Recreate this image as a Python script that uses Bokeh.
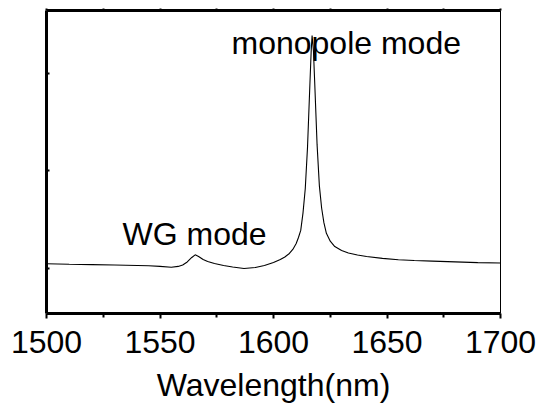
from bokeh.plotting import figure
from bokeh.models import Range1d, FixedTicker, LinearAxis
from bokeh.core.properties import value
from bokeh.embed import file_html
from bokeh.resources import INLINE

# Wavelength (nm) and intensity (arbitrary units)
wavelength = [1500, 1510, 1520, 1530, 1540, 1545, 1550, 1555, 1558, 1560, 1562, 1564,
              1565.5, 1567, 1569, 1571, 1574, 1578, 1582, 1587, 1592, 1596, 1600,
              1603, 1605, 1607, 1608.5, 1610, 1611, 1612, 1613, 1614, 1615, 1616,
              1616.6, 1617.0, 1617.6, 1618.2, 1619.2, 1620.2, 1621.2, 1622.2, 1623.3,
              1625, 1627, 1630, 1633, 1637, 1641, 1648, 1655, 1662, 1670, 1680, 1690, 1700]
intensity = [0.048, 0.043, 0.039, 0.036, 0.031, 0.028, 0.021, 0.013, 0.021, 0.036, 0.067, 0.113,
             0.140, 0.123, 0.092, 0.072, 0.051, 0.031, 0.015, 0.000, 0.010, 0.031, 0.062,
             0.092, 0.118, 0.154, 0.195, 0.256, 0.318, 0.390, 0.570, 0.820, 1.250, 1.870,
             2.230, 2.390, 2.230, 1.880, 1.270, 0.850, 0.620, 0.470, 0.360,
             0.280, 0.225, 0.185, 0.158, 0.138, 0.122, 0.103, 0.089, 0.081, 0.075, 0.068, 0.060, 0.056]

x_major = [1500, 1550, 1600, 1650, 1700]
x_minor = [1525, 1575, 1625, 1675]
y_major = [0, 1, 2]

labels = ["monopole mode", "WG mode"]
label_x = [1581.5, 1533.5]
label_y = [2.31, 0.355]

FONT = "Liberation Sans"

p = figure(width=540, height=410, output_backend="svg", toolbar_location=None,
           x_range=Range1d(1500, 1700), y_range=Range1d(-0.462, 2.646),
           x_axis_location=None, y_axis_location=None,
           min_border_left=46, min_border_right=40, min_border_top=10, min_border_bottom=97)
p.grid.visible = False
p.outline_line_color = None
p.background_fill_color = "white"
p.border_fill_color = "white"

# bottom axis
xb = LinearAxis(ticker=FixedTicker(ticks=x_major, minor_ticks=x_minor))
xb.axis_line_width = 3
xb.axis_line_color = "black"
xb.major_tick_in = 0
xb.major_tick_out = 5
xb.minor_tick_in = 0
xb.minor_tick_out = 4
xb.major_tick_line_width = 2
xb.minor_tick_line_width = 2
xb.major_label_text_font = FONT
xb.major_label_text_font_size = "32px"
xb.major_label_text_color = "black"
xb.major_label_standoff = 12
xb.axis_label = "Wavelength(nm)"
xb.axis_label_text_font = FONT
xb.axis_label_text_font_size = "32px"
xb.axis_label_text_font_style = "normal"
xb.axis_label_text_color = "black"
xb.axis_label_standoff = 11
p.add_layout(xb, "below")

# left axis (no labels)
yl = LinearAxis(ticker=FixedTicker(ticks=y_major, minor_ticks=[]))
yl.axis_line_width = 3
yl.axis_line_color = "black"
yl.major_tick_in = 3
yl.major_tick_out = 0
yl.major_tick_line_width = 2
yl.minor_tick_line_color = None
yl.major_label_text_font_size = "0px"
yl.major_label_text_color = None
yl.major_label_standoff = 0
p.add_layout(yl, "left")

# top border with small ticks
xt = LinearAxis(ticker=FixedTicker(ticks=x_major, minor_ticks=x_minor))
xt.axis_line_width = 3
xt.axis_line_color = "black"
xt.major_tick_in = 0
xt.major_tick_out = 2
xt.minor_tick_in = 0
xt.minor_tick_out = 2
xt.major_tick_line_width = 2
xt.minor_tick_line_width = 2
xt.major_label_text_font_size = "0px"
xt.major_label_text_color = None
xt.major_label_standoff = 0
p.add_layout(xt, "above")

# right border, thin
yr = LinearAxis(ticker=FixedTicker(ticks=[], minor_ticks=[]))
yr.axis_line_width = 1
yr.axis_line_color = "black"
yr.major_tick_line_color = None
yr.minor_tick_line_color = None
yr.major_label_text_font_size = "0px"
yr.major_label_text_color = None
yr.major_label_standoff = 0
p.add_layout(yr, "right")

p.line(wavelength, intensity, line_color="black", line_width=1.1)

p.text(x=label_x, y=label_y, text=labels, text_font=value(FONT), text_font_size="32px",
       text_color="black", text_align="left", text_baseline="alphabetic")

open("out.html", "w").write(file_html(p, INLINE))
